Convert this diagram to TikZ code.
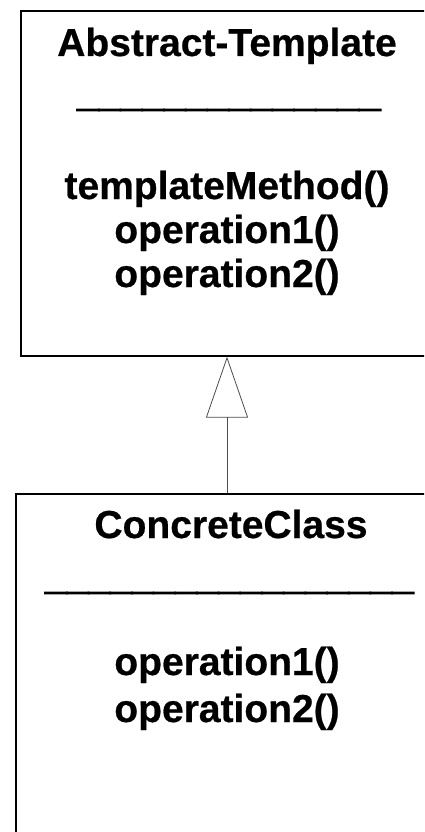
\documentclass[tikz,border=0pt]{standalone}
\usepackage{fontspec}
\setmainfont{Liberation Sans}
\usetikzlibrary{arrows.meta,positioning}

\tikzset{
  classbox/.style={draw, line width=1.2pt, minimum width=412pt, minimum height=345pt, inner sep=0pt},
  umltext/.style={font=\fontsize{39}{44}\bfseries\addfontfeature{FakeBold=0.6}\selectfont, anchor=base, inner sep=0pt},
  umlline/.style={umltext, font=\fontsize{39}{44}\bfseries\addfontfeature{FakeBold=3}\selectfont},
  inherit/.style={draw=black!70, line width=0.8pt, -{Triangle[open, length=61pt, width=42pt]}}
}

\begin{document}
\begin{tikzpicture}[x=1pt,y=-1pt]
\useasboundingbox (0,0) rectangle (424,832);
\clip (0,0) rectangle (424,832);

% the two classes
\node[classbox] (abstract) at (227,183.5) {};
\node[classbox, minimum width=426pt, minimum height=360pt] (concrete) at (229,674) {};

\node[umltext] (abstractname) at (227,56) {Abstract-Template};
\node[umlline] (abstractline) at (229,106) {\_\_\_\_\_\_\_\_\_\_\_\_\_\_};
\node[umltext] (templatemethod) at (227,199) {templateMethod()};
\node[umltext] (abstractop1) at (227,243) {operation1()};
\node[umltext] (abstractop2) at (227,287) {operation2()};

\node[umltext] (concretename) at (231,538) {ConcreteClass};
\node[umlline] (concreteline) at (229.5,589) {\_\_\_\_\_\_\_\_\_\_\_\_\_\_\_\_\_};
\node[umltext] (concreteop1) at (227,675) {operation1()};
\node[umltext] (concreteop2) at (227,722) {operation2()};

% generalization
\draw[inherit] (concrete.north -| abstract.south) -- (abstract.south);

\end{tikzpicture}
\end{document}
